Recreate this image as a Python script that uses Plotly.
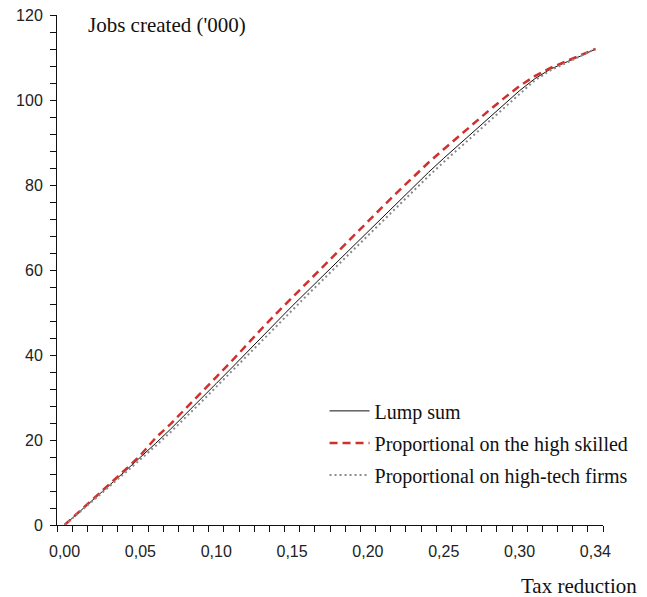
import plotly.graph_objects as go

# x positions are the simulation steps (category slots), labelled every 5th
steps = list(range(36))
tick_pos = [0, 5, 10, 15, 20, 25, 30, 35]
tick_labels = ["0,00", "0,05", "0,10", "0,15", "0,20", "0,25", "0,30", "0,34"]

lump_sum = [0, 3.1, 6.3, 9.5, 12.7, 15.9, 19.2, 22.6, 26.1, 29.7,
            33.3, 36.9, 40.6, 44.3, 48.0, 51.5, 55.0, 58.5, 62.0, 65.5,
            69.0, 72.6, 76.1, 79.6, 83.0, 86.3, 89.5, 92.7, 95.8, 99.0,
            102.2, 105.0, 107.2, 108.8, 110.3, 112.0]
prop_high_skilled = [0, 3.2, 6.4, 9.7, 13.0, 16.4, 20.5, 23.8, 27.4, 31.0,
                     34.8, 38.5, 42.4, 46.2, 49.9, 53.5, 57.1, 60.8, 64.4, 67.9,
                     71.4, 75.0, 78.5, 82.0, 85.3, 88.4, 91.5, 94.6, 97.6, 100.5,
                     103.3, 105.6, 107.5, 109.0, 110.5, 112.0]
prop_high_tech = [0, 3.0, 6.1, 9.2, 12.3, 15.4, 18.6, 21.9, 25.3, 28.9,
                  32.5, 36.1, 39.8, 43.4, 47.1, 50.6, 54.1, 57.6, 61.1, 64.6,
                  68.1, 71.7, 75.2, 78.7, 82.1, 85.4, 88.6, 91.9, 95.0, 98.3,
                  101.6, 104.6, 106.9, 108.6, 110.2, 112.0]

serif = "Liberation Serif, Times New Roman, serif"
sans = "Liberation Sans, Arial, sans-serif"

fig = go.Figure()
fig.add_trace(go.Scatter(x=steps, y=lump_sum, mode="lines", name="Lump sum",
                         legendgroup="a",
                         line=dict(color="#111111", width=1)))
fig.add_trace(go.Scatter(x=steps, y=prop_high_skilled, mode="lines",
                         name="Proportional on the high skilled", legendgroup="b",
                         line=dict(color="#d0302c", width=2.5, dash="8px,5px")))
fig.add_trace(go.Scatter(x=steps, y=prop_high_tech, mode="lines",
                         name="Proportional on high-tech firms", legendgroup="c",
                         line=dict(color="#8a8a8a", width=2, dash="2px,3px")))

fig.update_layout(
    width=647, height=597,
    margin=dict(l=57, r=44, t=15, b=72),
    paper_bgcolor="white", plot_bgcolor="white",
    showlegend=True,
    legend=dict(x=0.49, y=0.262, xanchor="left", yanchor="top",
                font=dict(family=serif, size=20, color="#111111"),
                bgcolor="rgba(0,0,0,0)", itemwidth=40,
                traceorder="grouped", tracegroupgap=3),
    annotations=[
        dict(text="Jobs created ('000)", x=0.053, y=0.98, xref="paper", yref="paper",
             xanchor="left", yanchor="middle", showarrow=False,
             font=dict(family=serif, size=21, color="#111111")),
        dict(text="Tax reduction", x=1.066, y=-0.12, xref="paper", yref="paper",
             xanchor="right", yanchor="middle", showarrow=False,
             font=dict(family=serif, size=21, color="#111111")),
    ],
)

fig.update_xaxes(
    range=[-0.5, 35.5], showgrid=False, zeroline=False, automargin=False,
    showline=True, linecolor="#111111", linewidth=1,
    tickmode="array", tickvals=tick_pos, ticktext=tick_labels,
    ticks="", ticklabelstandoff=12,
    tickfont=dict(family=sans, size=16, color="#222222"),
    minor=dict(ticks="outside", tick0=-0.5, dtick=1, ticklen=6,
               tickcolor="#111111", tickwidth=1, showgrid=False),
)
fig.update_yaxes(
    range=[0, 120], showgrid=False, zeroline=False, automargin=False,
    showline=True, linecolor="#111111", linewidth=1,
    tick0=0, dtick=20, ticks="outside", ticklen=6, tickcolor="#111111",
    ticklabelstandoff=4,
    tickfont=dict(family=sans, size=16, color="#222222"),
    minor=dict(ticks="outside", dtick=4, ticklen=6, tickcolor="#111111",
               showgrid=False),
)

# drop the browser's default page margin so the figure sits at the window's corner
fig.write_html("out.html", config={"displayModeBar": False},
               post_script="document.body.style.margin='0px';")
